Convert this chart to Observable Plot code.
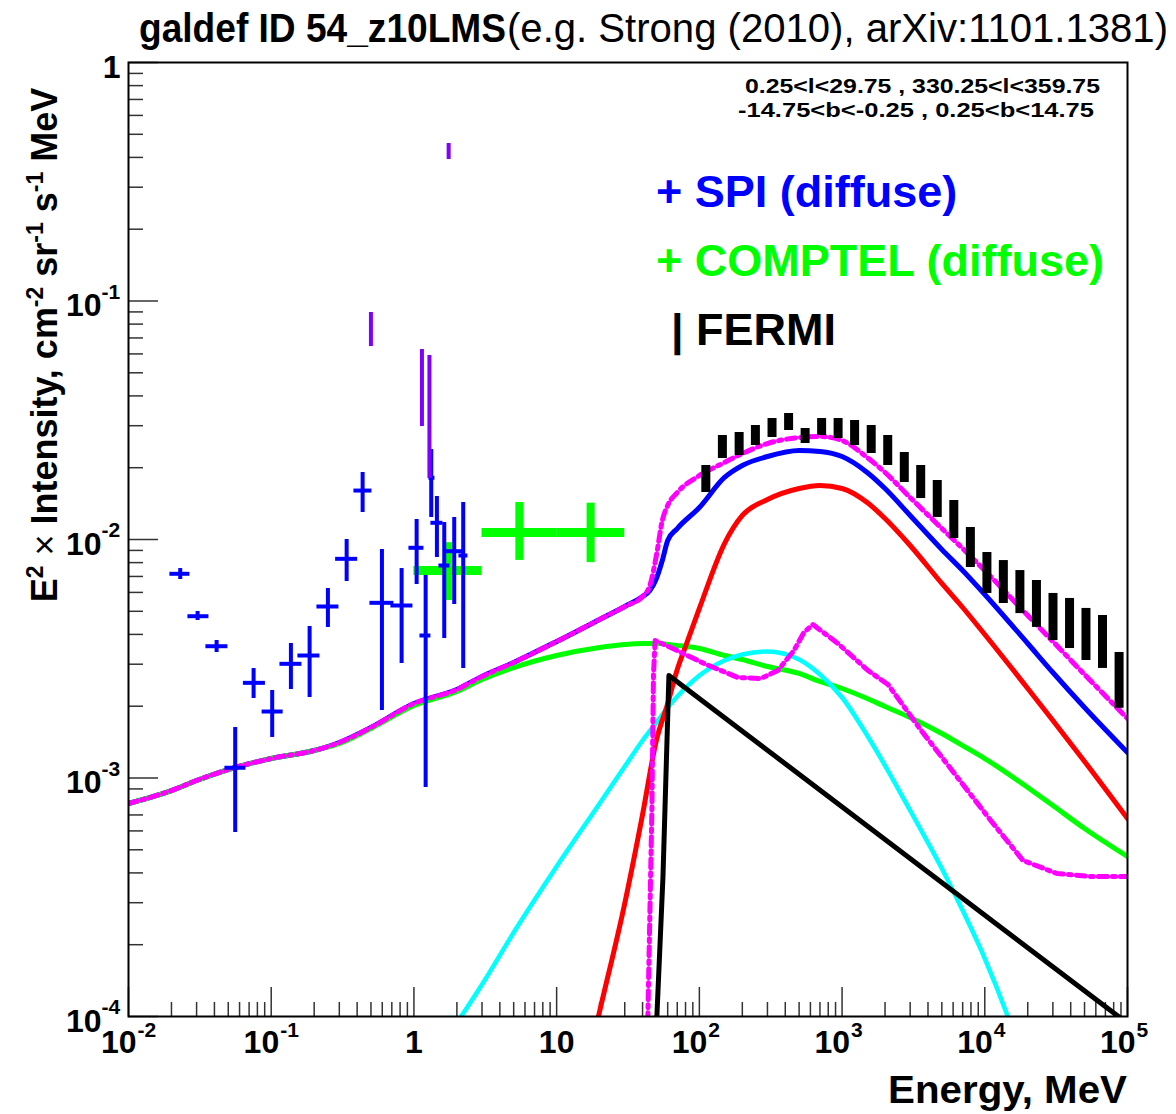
<!DOCTYPE html>
<html><head><meta charset="utf-8">
<script src="https://cdn.jsdelivr.net/npm/d3@7"></script>
<script src="https://cdn.jsdelivr.net/npm/@observablehq/plot@0.6"></script>
<style>
body{margin:0;background:#fff;}
#chart{position:relative;width:1176px;height:1114px;}
</style></head><body><div id="chart"></div>
<script>
// ---------- axis ticks ----------
const xMajor = [1e-2, 1e-1, 1, 10, 100, 1e3, 1e4, 1e5];
const xMajorBase = ["10", "10", "1", "10", "10", "10", "10", "10"];
const xMajorExp = ["-2", "-1", "", "", "2", "3", "4", "5"];
const yMajor = [1e-4, 1e-3, 1e-2, 1e-1, 1];
const yMajorBase = ["10", "10", "10", "10", "1"];
const yMajorExp = ["-4", "-3", "-2", "-1", ""];
const minorMult = [2, 3, 4, 5, 6, 7, 8, 9];

// ---------- model curves (E in MeV, E^2 x Intensity) ----------
const gridE = [0.01, 0.02, 0.03, 0.05, 0.1, 0.2, 0.3, 0.5, 1, 2, 3, 5, 10, 20, 30, 40, 45, 50, 55, 60, 70, 100, 150, 200, 300, 500, 700, 1000, 1500, 2000, 3000, 5000, 7000, 1e4, 2e4, 3e4, 5e4, 1e5];
const totalI = [7.82e-4, 8.86e-4, 9.76e-4, 1.085e-3, 1.207e-3, 1.304e-3, 1.408e-3, 1.628e-3, 2.053e-3, 2.350e-3, 2.665e-3, 3.050e-3, 3.735e-3, 4.619e-3, 5.237e-3, 5.768e-3, 6.111e-3, 6.863e-3, 8.164e-3, 9.903e-3, 1.112e-2, 1.362e-2, 1.820e-2, 2.043e-2, 2.228e-2, 2.360e-2, 2.338e-2, 2.228e-2, 1.910e-2, 1.636e-2, 1.261e-2, 9.081e-3, 7.413e-3, 5.881e-3, 3.664e-3, 2.769e-3, 1.975e-3, 1.279e-3];
const icI = [7.82e-4, 8.86e-4, 9.76e-4, 1.085e-3, 1.207e-3, 1.304e-3, 1.395e-3, 1.613e-3, 2.014e-3, 2.305e-3, 2.588e-3, 2.905e-3, 3.263e-3, 3.525e-3, 3.628e-3, 3.664e-3, 3.664e-3, 3.664e-3, 3.664e-3, 3.628e-3, 3.594e-3, 3.491e-3, 3.263e-3, 3.139e-3, 2.933e-3, 2.743e-3, 2.539e-3, 2.373e-3, 2.154e-3, 1.994e-3, 1.793e-3, 1.537e-3, 1.368e-3, 1.207e-3, 9.124e-4, 7.666e-4, 6.142e-4, 4.687e-4];
const altTotalI = [7.82e-4, 8.86e-4, 9.76e-4, 1.085e-3, 1.207e-3, 1.304e-3, 1.408e-3, 1.628e-3, 2.053e-3, 2.350e-3, 2.665e-3, 3.050e-3, 3.735e-3, 4.619e-3, 5.237e-3, 5.768e-3, 6.415e-3, 8.568e-3, 1.202e-2, 1.389e-2, 1.574e-2, 1.855e-2, 2.103e-2, 2.294e-2, 2.526e-2, 2.677e-2, 2.703e-2, 2.601e-2, 2.207e-2, 1.910e-2, 1.500e-2, 1.112e-2, 9.170e-3, 7.413e-3, 4.800e-3, 3.735e-3, 2.716e-3, 1.776e-3];

const pi0E = [18, 20, 30, 40, 50, 60, 70, 80, 100, 150, 200, 300, 500, 700, 1000, 1500, 2000, 3000, 5000, 7000, 1e4, 2e4, 3e4, 5e4, 1e5];
const pi0I = [8.0e-5, 1.05e-4, 2.98e-4, 7.03e-4, 1.44e-3, 2.05e-3, 2.85e-3, 3.56e-3, 5.14e-3, 9.62e-3, 1.261e-2, 1.471e-2, 1.636e-2, 1.684e-2, 1.636e-2, 1.429e-2, 1.225e-2, 9.44e-3, 6.54e-3, 5.186e-3, 3.996e-3, 2.373e-3, 1.741e-3, 1.173e-3, 6.76e-4];

const bremE = [2.0, 3, 5, 10, 20, 30, 40, 50, 60, 70, 100, 150, 200, 300, 500, 700, 1000, 1500, 2000, 3000, 5000, 7000, 1e4, 1.45e4, 1.6e4];
const bremI = [9.4e-5, 1.362e-4, 2.250e-4, 4.255e-4, 7.816e-4, 1.117e-3, 1.436e-3, 1.708e-3, 1.975e-3, 2.196e-3, 2.690e-3, 3.110e-3, 3.294e-3, 3.391e-3, 3.139e-3, 2.716e-3, 2.175e-3, 1.507e-3, 1.128e-3, 7.307e-4, 4.173e-4, 2.783e-4, 1.750e-4, 1.0e-4, 8.5e-5];

const srcE = [50.0, 55.6, 59.3, 61.2, 1e5];
const srcI = [9.0e-5, 3.864e-4, 1.422e-3, 2.690e-3, 9.36e-5];

const altPi0E = [43.5, 46.5, 47.7, 49, 63, 108, 186, 270, 355, 460, 540, 625, 936, 1519, 2097, 3630, 6283, 10870, 18520, 32060, 55490, 1e5];
const altPi0I = [9.5e-5, 7.378e-4, 2.716e-3, 3.771e-3, 3.525e-3, 3.020e-3, 2.639e-3, 2.614e-3, 2.823e-3, 3.423e-3, 4.074e-3, 4.400e-3, 3.664e-3, 2.823e-3, 2.466e-3, 1.567e-3, 1.024e-3, 6.699e-4, 4.509e-4, 3.977e-4, 3.864e-4, 3.864e-4];

// ---------- SPI (diffuse) ----------
const spiE   = [0.02304, 0.03049, 0.04144, 0.05592, 0.07525, 0.1016, 0.1374, 0.1858, 0.2496, 0.3377, 0.4370, 0.5968, 0.8198, 1.0445, 1.208, 1.322, 1.449, 1.631, 1.916, 2.215];
const spiElo = [0.01950, 0.02608, 0.03486, 0.04736, 0.06386, 0.08634, 0.1151, 0.1538, 0.2091, 0.2827, 0.3798, 0.4917, 0.6898, 0.9226, 1.102, 1.274, 1.315, 1.497, 1.676, 2.067];
const spiEhi = [0.02694, 0.03660, 0.04971, 0.06648, 0.09109, 0.1212, 0.1641, 0.2195, 0.2981, 0.4032, 0.5078, 0.7242, 0.9840, 1.175, 1.315, 1.403, 1.597, 1.788, 2.205, 2.389];
const spiI   = [0.007181, 0.004768, 0.003569, 0.001104, 0.002506, 0.001900, 0.003011, 0.003263, 0.005237, 0.008298, 0.01604, 0.005426, 0.005288, 0.009231, 0.003958, 0.01815, 0.01175, 0.007780, 0.008931, 0.008568];
const spiIlo = [0.006798, 0.004574, 0.003358, 0.000591, 0.002154, 0.001479, 0.002350, 0.002175, 0.004276, 0.006667, 0.01298, 0.001919, 0.003020, 0.006477, 0.000912, 0.01237, 0.008402, 0.003845, 0.005340, 0.002877];
const spiIhi = [0.007555, 0.004990, 0.003771, 0.001628, 0.002877, 0.002327, 0.003664, 0.004317, 0.006230, 0.01000, 0.01910, 0.009081, 0.007555, 0.01213, 0.007063, 0.02384, 0.01515, 0.01178, 0.01237, 0.01429];

// ---------- COMPTEL (diffuse) ----------
const comptelE   = [1.73, 5.48, 17.3];
const comptelElo = [1, 3, 10];
const comptelEhi = [3, 10, 30];
const comptelI   = [7.41e-3, 1.07e-2, 1.07e-2];
const comptelIlo = [5.55e-3, 8.17e-3, 8.0e-3];
const comptelIhi = [9.7e-3, 1.43e-2, 1.42e-2];

// ---------- other bars (violet) ----------
const violetE  = [0.4997, 1.138, 1.284, 1.751];
const violetLo = [0.06446, 0.02977, 0.01802, 0.3920];
const violetHi = [0.08950, 0.06260, 0.05908, 0.4574];

// ---------- FERMI ----------
const fermiE  = [111, 145, 190, 247, 323, 422, 551, 719, 938, 1224, 1600, 2089, 2729, 3556, 4645, 6067, 7925, 10350, 13490, 17620, 23010, 30060, 39260, 51170, 66830, 87300];
const fermiLo = [0.01574, 0.02186, 0.02250, 0.02478, 0.02677, 0.02864, 0.02526, 0.02729, 0.02651, 0.02478, 0.02294, 0.02043, 0.01734, 0.01485, 0.01237, 0.01010, 0.00763, 0.00594, 0.00539, 0.00489, 0.00428, 0.00377, 0.00349, 0.00311, 0.00288, 0.00196];
const fermiHi = [0.02043, 0.02729, 0.02809, 0.03006, 0.03216, 0.03375, 0.02920, 0.03216, 0.03216, 0.03155, 0.03006, 0.02729, 0.02316, 0.02043, 0.01768, 0.01457, 0.01123, 0.00882, 0.00816, 0.00741, 0.00673, 0.00594, 0.00566, 0.00514, 0.00480, 0.00336];

// ---------- layout ----------
const W = 1176, H = 1114, mL = 128, mR = 49, mT = 62, mB = 98;
const fW = W - mL - mR, fH = H - mT - mB;
const F = "'Liberation Sans', Arial, Helvetica, sans-serif";

const rows = (E, I) => E.map((e, i) => ({E: e, I: I[i]}));
const xMinor = xMajor.slice(0, -1).flatMap(d => minorMult.map(m => d * m));
const yMinor = yMajor.slice(0, -1).flatMap(d => minorMult.map(m => d * m));
const spi = spiE.map((e, i) => ({E: e, Elo: spiElo[i], Ehi: spiEhi[i], I: spiI[i], lo: spiIlo[i], hi: spiIhi[i]}));
const comptel = comptelE.map((e, i) => ({E: e, Elo: comptelElo[i], Ehi: comptelEhi[i], I: comptelI[i], lo: comptelIlo[i], hi: comptelIhi[i]}));
const violet = violetE.map((e, i) => ({E: e, lo: violetLo[i], hi: violetHi[i]}));
const fermi = fermiE.map((e, i) => ({E: e, lo: fermiLo[i], hi: fermiHi[i]}));
const xLab = xMajor.map((v, i) => ({v, base: xMajorBase[i], exp: xMajorExp[i]}));
const yLab = yMajor.map((v, i) => ({v, base: yMajorBase[i], exp: yMajorExp[i]}));

const lineOpts = (stroke, w, extra = {}) => ({x: "E", y: "I", stroke, strokeWidth: w, curve: "monotone-x", clip: true, strokeLinejoin: "round", ...extra});
const lab = {fontFamily: F, fontWeight: "bold", fill: "#000"};

const chart = Plot.plot({
  width: W, height: H,
  marginLeft: mL, marginRight: mR, marginTop: mT, marginBottom: mB,
  x: {type: "log", domain: [1e-2, 1e5], axis: null},
  y: {type: "log", domain: [1e-4, 1], axis: null},
  style: {background: "#fff", overflow: "visible"},
  marks: [
    // ticks (inside frame)
    Plot.ruleX(xMinor, {x: d => d, insetTop: fH - 14, stroke: "#333", strokeWidth: 1.5}),
    Plot.ruleX(xMajor, {x: d => d, insetTop: fH - 29, stroke: "#333", strokeWidth: 1.5}),
    Plot.ruleY(yMinor, {y: d => d, insetRight: fW - 15, stroke: "#333", strokeWidth: 1.5}),
    Plot.ruleY(yMajor, {y: d => d, insetRight: fW - 30, stroke: "#333", strokeWidth: 1.5}),
    // model curves
    Plot.line(rows(gridE, totalI), lineOpts("#0000ff", 5)),
    Plot.line(rows(gridE, icI), lineOpts("#00ff00", 5)),
    Plot.line(rows(bremE, bremI), lineOpts("#00ffff", 4.5)),
    Plot.line(rows(pi0E, pi0I), lineOpts("#ff0000", 5)),
    Plot.line(rows(srcE, srcI), lineOpts("#000000", 5, {curve: "linear"})),
    Plot.line(rows(altPi0E, altPi0I), lineOpts("#ff00ff", 5, {strokeDasharray: "9,5,3,5", curve: "linear"})),
    Plot.line(rows(gridE, altTotalI), lineOpts("#ff00ff", 5, {strokeDasharray: "9,5,3,5"})),
    // data
    Plot.ruleX(fermi, {x: "E", y1: "lo", y2: "hi", stroke: "#000", strokeWidth: 9}),
    Plot.ruleY(comptel, {y: "I", x1: "Elo", x2: "Ehi", stroke: "#00ff00", strokeWidth: 9}),
    Plot.ruleX(comptel, {x: "E", y1: "lo", y2: "hi", stroke: "#00ff00", strokeWidth: 8}),
    Plot.ruleX(spi, {x: "E", y1: "lo", y2: "hi", stroke: "#0000ff", strokeWidth: 4}),
    Plot.ruleY(spi, {y: "I", x1: "Elo", x2: "Ehi", stroke: "#0000ff", strokeWidth: 4}),
    Plot.ruleX(violet, {x: "E", y1: "lo", y2: "hi", stroke: "#8000ff", strokeWidth: 4}),
    // frame
    Plot.frame({stroke: "#000", strokeWidth: 2}),
    // tick labels
    Plot.text(xLab.filter(d => d.exp), {x: "v", text: "base", frameAnchor: "bottom", textAnchor: "end", dx: 8, dy: 36, fontSize: 32, ...lab}),
    Plot.text(xLab.filter(d => d.exp), {x: "v", text: "exp", frameAnchor: "bottom", textAnchor: "start", dx: 9, dy: 20, fontSize: 21, ...lab}),
    Plot.text(xLab.filter(d => !d.exp), {x: "v", text: "base", frameAnchor: "bottom", textAnchor: "middle", dy: 36, fontSize: 32, ...lab}),
    Plot.text(yLab.filter(d => d.exp), {y: "v", text: "base", frameAnchor: "left", textAnchor: "end", dx: -27, dy: 5, fontSize: 32, ...lab}),
    Plot.text(yLab.filter(d => d.exp), {y: "v", text: "exp", frameAnchor: "left", textAnchor: "start", dx: -27, dy: -9, fontSize: 21, ...lab}),
    Plot.text(yLab.filter(d => !d.exp), {y: "v", text: "base", frameAnchor: "left", textAnchor: "end", dx: -8, dy: 5, fontSize: 32, ...lab})
  ]
});
document.getElementById("chart").appendChild(chart);

// ---------- annotation texts ----------
const svg = d3.select(chart);
const g = svg.append("g").attr("font-family", F);
const txt = (x, y, s, size, weight, fill, len, anchor = "start") => {
  const t = g.append("text").attr("x", x).attr("y", y).attr("font-size", size)
    .attr("font-weight", weight).attr("fill", fill).attr("text-anchor", anchor).text(s);
  if (len) t.attr("textLength", len).attr("lengthAdjust", "spacingAndGlyphs");
  return t;
};
txt(139, 42, "galdef ID 54_z10LMS", 40, "bold", "#000", 367);
txt(507, 42, "(e.g. Strong (2010), arXiv:1101.1381)", 40, "normal", "#000", 661);
txt(745, 93, "0.25<l<29.75 , 330.25<l<359.75", 21, "bold", "#000", 355);
txt(738, 117, "-14.75<b<-0.25 , 0.25<b<14.75", 21, "bold", "#000", 356);
txt(656, 207, "+ SPI (diffuse)", 45, "bold", "#0000ff");
txt(656, 276, "+ COMPTEL (diffuse)", 45, "bold", "#00ff00");
txt(671, 345, "| FERMI", 45, "bold", "#000");
txt(1127, 1103, "Energy, MeV", 38, "bold", "#000", 239, "end");

const yl = g.append("text").attr("transform", "translate(57,345) rotate(-90)")
  .attr("text-anchor", "middle").attr("font-size", 36).attr("font-weight", "bold").attr("fill", "#000");
yl.append("tspan").text("E");
yl.append("tspan").attr("font-size", 23).attr("dy", -14).text("2");
yl.append("tspan").attr("dy", 14).attr("font-weight", "normal").text(" \u00d7 ");
yl.append("tspan").text("Intensity, cm");
yl.append("tspan").attr("font-size", 23).attr("dy", -14).text("-2");
yl.append("tspan").attr("dy", 14).text(" sr");
yl.append("tspan").attr("font-size", 23).attr("dy", -14).text("-1");
yl.append("tspan").attr("dy", 14).text(" s");
yl.append("tspan").attr("font-size", 23).attr("dy", -14).text("-1");
yl.append("tspan").attr("dy", 14).text(" MeV");
</script></body></html>
